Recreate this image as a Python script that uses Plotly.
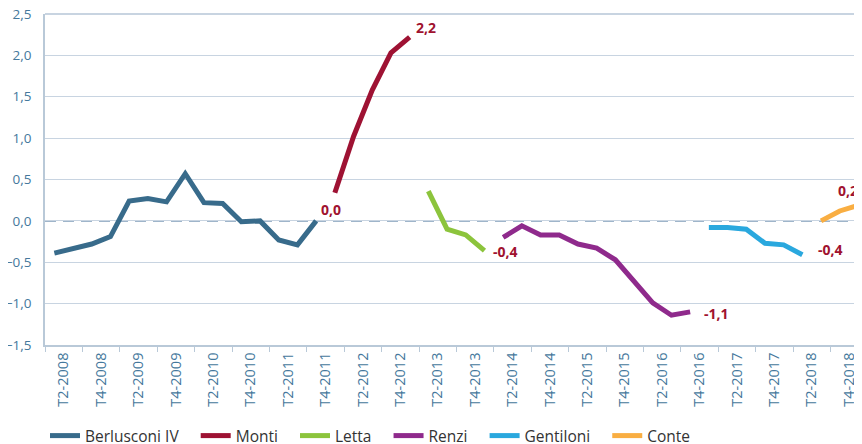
import plotly.graph_objects as go

quarters = [
    "T2-2008", "T3-2008", "T4-2008",
    "T1-2009", "T2-2009", "T3-2009", "T4-2009",
    "T1-2010", "T2-2010", "T3-2010", "T4-2010",
    "T1-2011", "T2-2011", "T3-2011", "T4-2011",
    "T1-2012", "T2-2012", "T3-2012", "T4-2012",
    "T1-2013", "T2-2013", "T3-2013", "T4-2013",
    "T1-2014", "T2-2014", "T3-2014", "T4-2014",
    "T1-2015", "T2-2015", "T3-2015", "T4-2015",
    "T1-2016", "T2-2016", "T3-2016", "T4-2016",
    "T1-2017", "T2-2017", "T3-2017", "T4-2017",
    "T1-2018", "T2-2018", "T3-2018", "T4-2018",
    "T1-2019",
]

tick_labels = [
    "T2-2008", "T4-2008", "T2-2009", "T4-2009", "T2-2010", "T4-2010",
    "T2-2011", "T4-2011", "T2-2012", "T4-2012", "T2-2013", "T4-2013",
    "T2-2014", "T4-2014", "T2-2015", "T4-2015", "T2-2016", "T4-2016",
    "T2-2017", "T4-2017", "T2-2018", "T4-2018",
]

governments = ["Berlusconi IV", "Monti", "Letta", "Renzi", "Gentiloni", "Conte"]
start_quarters = ["T2-2008", "T1-2012", "T2-2013", "T2-2014", "T1-2017", "T3-2018"]

berlusconi = [-0.39, -0.33, -0.28, -0.19, 0.24, 0.27, 0.23, 0.57, 0.22, 0.21, -0.01, 0.00, -0.23, -0.29, 0.00]
monti = [0.34, 1.02, 1.58, 2.03, 2.22]
letta = [0.36, -0.10, -0.17, -0.36]
renzi = [-0.20, -0.06, -0.17, -0.17, -0.28, -0.33, -0.47, -0.73, -0.99, -1.14, -1.10]
gentiloni = [-0.08, -0.08, -0.10, -0.27, -0.29, -0.41]
conte = [0.00, 0.12, 0.19]

y_range = [-1.5, 2.5]

series = [berlusconi, monti, letta, renzi, gentiloni, conte]
colors = ["#386b8b", "#9e1233", "#8cc43c", "#8f2a8c", "#2aa8de", "#f9ae42"]

# label offsets (pixels) for end-value annotations
label_offsets = [(3, 11, "left"), (4, 10, "left"), (7, -1, "left"),
                 (12, -2, "left"), (14, 5, "left"), (2, 15, "right")]

PAD = "\u00a0\u00a0\u00a0"  # extra spacing between legend entries

fig = go.Figure()
for name, start, vals, col in zip(governments, start_quarters, series, colors):
    i0 = quarters.index(start)
    xs = list(range(i0, i0 + len(vals)))
    fig.add_trace(go.Scatter(
        x=xs, y=vals, mode="lines", name=name + PAD,
        line=dict(color=col, width=5),
        hovertext=[quarters[i] for i in xs],
    ))

for (name, start, vals), (dx, dy, anchor) in zip(zip(governments, start_quarters, series), label_offsets):
    i0 = quarters.index(start)
    xl = i0 + len(vals) - 1
    v = vals[-1]
    txt = f"{round(v, 1):.1f}".replace(".", ",").replace("-0,0", "0,0")
    fig.add_annotation(
        x=xl, y=v, text=txt, showarrow=False, xanchor=anchor, yanchor="middle",
        xshift=dx, yshift=dy,
        font=dict(family="Open Sans", size=14, color="#a0122f", weight="bold"),
    )

axis_col = "#b9c9d8"
grid_col = "#c8d4e1"
text_col = "#45789c"

# top gridline (upper end of the value axis)
fig.add_shape(type="line", xref="paper", x0=0, x1=1, yref="paper", y0=1, y1=1,
              line=dict(color=grid_col, width=2), layer="above")
# zero reference line (dashed, replaces solid gridline)
fig.add_shape(type="line", xref="paper", x0=0, x1=1, yref="y", y0=0, y1=0,
              line=dict(color="white", width=2), layer="between")
fig.add_shape(type="line", xref="paper", x0=0, x1=1, yref="y", y0=0, y1=0,
              line=dict(color="#9fb5ca", width=2, dash="11px,7px"), layer="between")

label_pos = [quarters.index(t) + 0.5 for t in tick_labels]
tick_marks = [p - 1 for p in label_pos] + [label_pos[-1] + 1]

fig.update_layout(
    width=862, height=444,
    margin=dict(l=37, r=8, t=6, b=107, autoexpand=False),
    paper_bgcolor="white", plot_bgcolor="white",
    separators=",.",
    font=dict(family="Open Sans", color=text_col),
    showlegend=True,
    legend=dict(
        orientation="h", x=0.0, xanchor="left", y=-0.275, yanchor="middle",
        font=dict(family="Open Sans", size=15.5, color="#333333"),
        itemwidth=30, traceorder="normal",
    ),
    xaxis=dict(
        range=[-0.5, 43.19], automargin=False,
        tickmode="array", tickvals=label_pos, ticktext=tick_labels,
        tickangle=-90, ticks="", showgrid=False, zeroline=False,
        showline=True, linecolor=axis_col, linewidth=1.5,
        tickfont=dict(size=14.5, color=text_col),
        ticklabeloverflow="allow",
        minor=dict(tickmode="array", tickvals=tick_marks, ticks="outside",
                   ticklen=5, tickcolor=axis_col, tickwidth=1, showgrid=False),
    ),
    yaxis=dict(
        range=y_range, dtick=0.5, tick0=0, tickformat=".1f", automargin=False,
        showgrid=True, gridcolor=grid_col, gridwidth=1,
        zeroline=False, showline=True, linecolor=axis_col, linewidth=1.5,
        ticks="", ticklabelstandoff=9, ticklabeloverflow="allow",
        tickfont=dict(size=13.5, color=text_col),
    ),
)

fig.write_html("out.html")
